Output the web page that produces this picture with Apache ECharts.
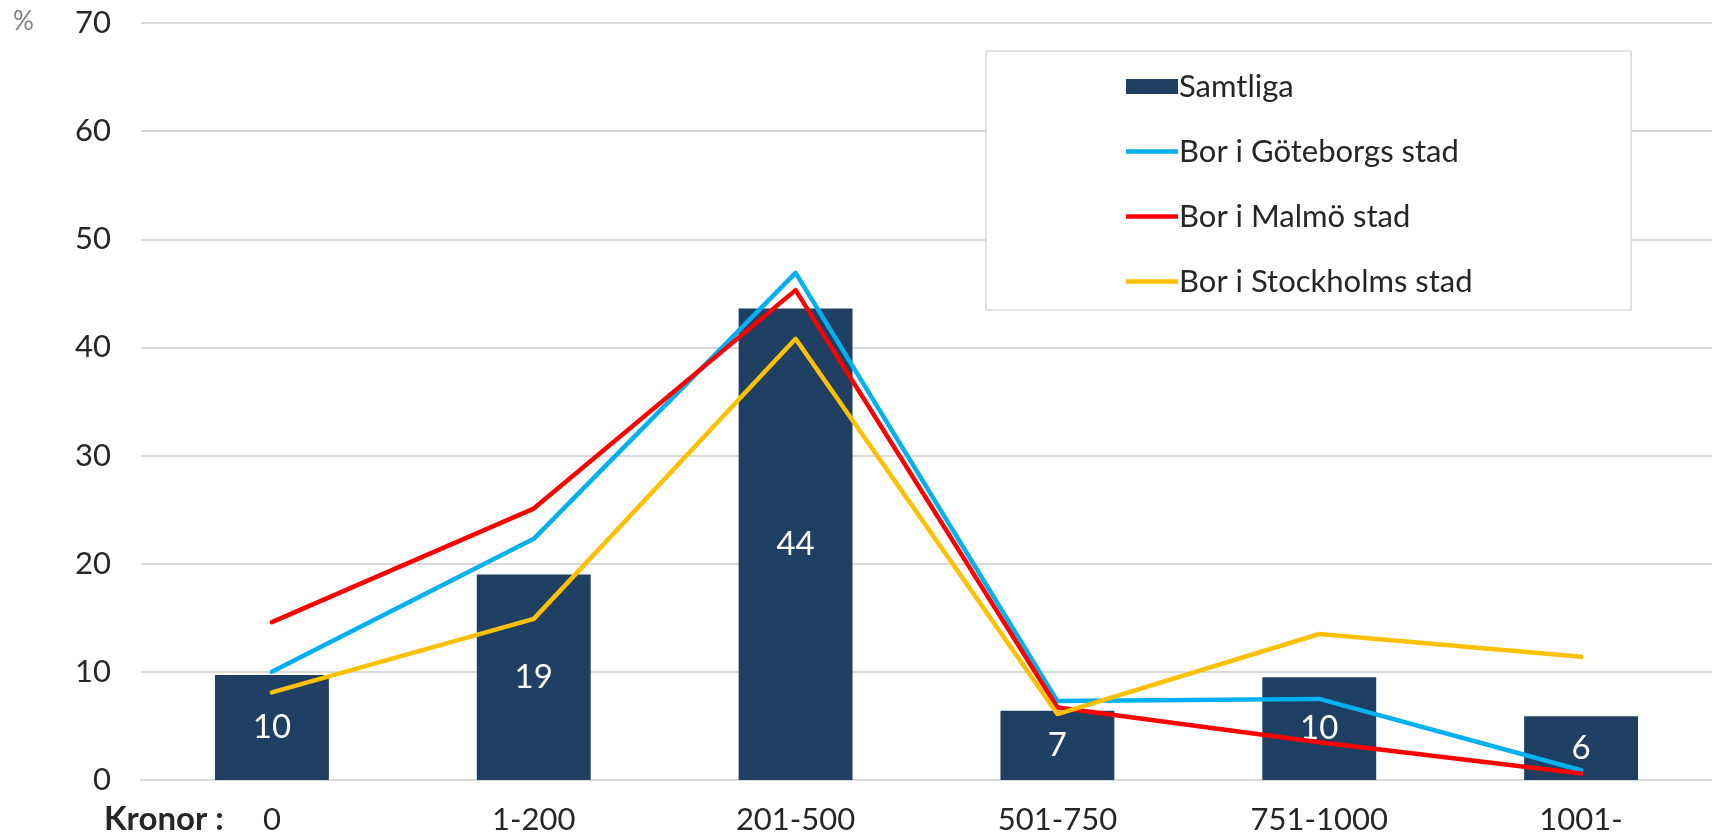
<!DOCTYPE html>
<html>
<head>
<meta charset="utf-8">
<script src="https://cdn.jsdelivr.net/npm/echarts@6/dist/echarts.min.js"></script>
<style>
  html, body { margin: 0; padding: 0; background: #fff; }
  #chart { width: 1712px; height: 839px; }
</style>
</head>
<body>
<div id="chart"></div>
<script>
// kostnadsklasser (kronor)
const categories = ['0', '1-200', '201-500', '501-750', '751-1000', '1001-'];

// procent per grupp
const samtliga = [9.7, 19.0, 43.6, 6.4, 9.5, 5.9];
const samtligaLabels = ['10', '19', '44', '7', '10', '6'];
const goteborg = [10.0, 22.3, 46.9, 7.3, 7.5, 0.9];
const malmo = [14.6, 25.1, 45.3, 6.7, 3.5, 0.6];
const stockholm = [8.1, 14.9, 40.8, 6.1, 13.5, 11.4];

const yTicks = { min: 0, max: 70, interval: 10 };

const FONT = 'Lato';
const TEXT = '#262626';
const LINE_ICON = 'path://M0,0L52,0L52,4.5L0,4.5Z';

const chart = echarts.init(document.getElementById('chart'), null, { renderer: 'canvas' });

function lineSeries(name, data, color) {
  return {
    name: name,
    type: 'line',
    data: data,
    symbol: 'none',
    z: 3,
    lineStyle: { color: color, width: 4.5, cap: 'round', join: 'round' },
    itemStyle: { color: color },
  };
}

chart.setOption({
  animation: false,
  textStyle: { fontFamily: FONT },
  grid: { left: 141, right: 0, top: 23, bottom: 59, containLabel: false },
  graphic: [
    {
      type: 'rect',
      shape: { x: 986, y: 51, width: 645, height: 259 },
      style: { fill: '#fff', stroke: '#d9d9d9', lineWidth: 1.5 },
      z: 5,
    },
    {
      type: 'text',
      left: 13, top: 9,
      style: { text: '%', fill: '#808080', font: '26px ' + FONT },
    },
    {
      type: 'text',
      left: 104, top: 803,
      style: { text: 'Kronor :', fill: TEXT, font: 'bold 33px ' + FONT },
    },
  ],
  legend: {
    orient: 'vertical',
    left: 1121,
    top: 66,
    itemWidth: 52,
    itemHeight: 15,
    itemGap: 34,
    z: 10,
    textStyle: { fontSize: 31, color: TEXT, fontFamily: FONT, padding: [0, 0, 0, -4] },
    data: [
      { name: 'Samtliga', icon: 'rect' },
      { name: 'Bor i Göteborgs stad', icon: LINE_ICON },
      { name: 'Bor i Malmö stad', icon: LINE_ICON },
      { name: 'Bor i Stockholms stad', icon: LINE_ICON },
    ],
  },
  xAxis: {
    type: 'category',
    data: categories,
    axisLine: { show: true, lineStyle: { color: '#d9d9d9', width: 2 } },
    axisTick: { show: false },
    axisLabel: { color: TEXT, fontSize: 31, fontFamily: FONT, margin: 24 },
  },
  yAxis: {
    type: 'value',
    min: yTicks.min,
    max: yTicks.max,
    interval: yTicks.interval,
    axisLine: { show: false },
    axisTick: { show: false },
    splitLine: { lineStyle: { color: '#d9d9d9', width: 2 } },
    axisLabel: { color: TEXT, fontSize: 31, fontFamily: FONT, margin: 30 },
  },
  series: [
    {
      name: 'Samtliga',
      type: 'bar',
      data: samtliga,
      barWidth: '43.5%',
      z: 2,
      itemStyle: { color: '#1f4062' },
      label: {
        show: true,
        position: 'inside',
        color: '#fff',
        fontSize: 33,
        fontFamily: FONT,
        formatter: (p) => samtligaLabels[p.dataIndex],
      },
    },
    lineSeries('Bor i Göteborgs stad', goteborg, '#00b0f0'),
    lineSeries('Bor i Malmö stad', malmo, '#ff0000'),
    lineSeries('Bor i Stockholms stad', stockholm, '#ffc000'),
  ],
});
</script>
</body>
</html>
